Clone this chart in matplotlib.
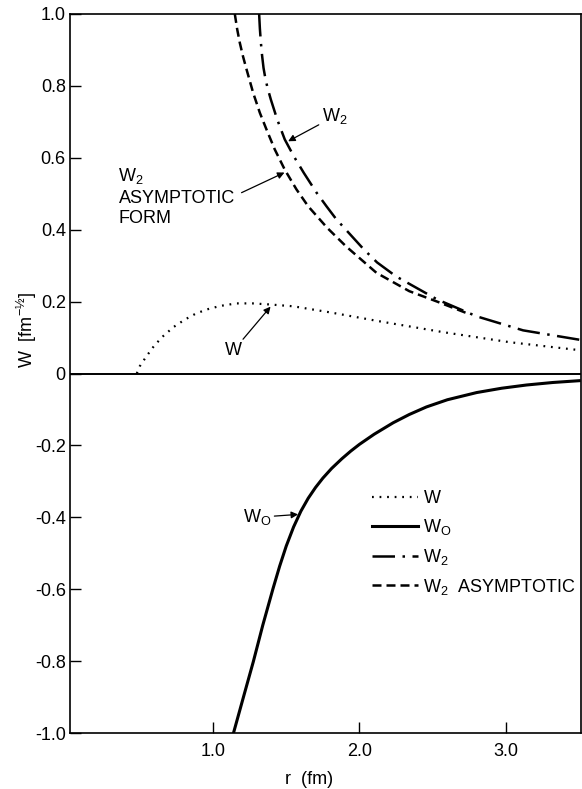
import matplotlib
matplotlib.use("Agg")
import matplotlib.pyplot as plt
from matplotlib.ticker import FixedLocator, FuncFormatter

plt.rcParams["font.family"] = ["Liberation Sans", "DejaVu Sans"]
plt.rcParams["mathtext.fontset"] = "custom"
plt.rcParams["mathtext.rm"] = "Liberation Sans"
plt.rcParams["mathtext.it"] = "Liberation Sans"
plt.rcParams["mathtext.default"] = "regular"

# values
w_r = [0.48, 0.50, 0.546, 0.60, 0.66, 0.73, 0.808, 0.88, 0.956, 1.05, 1.16, 1.27, 1.388,
       1.547, 1.80, 2.139, 2.571, 3.026, 3.50]
w_v = [0.0, 0.020, 0.048, 0.078, 0.104, 0.129, 0.150, 0.166, 0.178, 0.188, 0.195, 0.195,
       0.192, 0.187, 0.170, 0.145, 0.115, 0.087, 0.065]

w0_r = [1.14, 1.21, 1.275, 1.34, 1.41, 1.455, 1.50, 1.55, 1.60, 1.65, 1.70, 1.75, 1.81,
        1.88, 1.94, 2.00, 2.10, 2.23, 2.34, 2.457, 2.60, 2.80, 2.97, 3.14, 3.32, 3.50]
w0_v = [-1.0, -0.897, -0.802, -0.70, -0.598, -0.536, -0.480, -0.427, -0.383, -0.347,
        -0.317, -0.291, -0.264, -0.237, -0.216, -0.197, -0.169, -0.137, -0.114, -0.093,
        -0.073, -0.053, -0.041, -0.032, -0.025, -0.020]

w2_r = [1.315, 1.320, 1.327, 1.335, 1.345, 1.357, 1.372, 1.395, 1.438, 1.490, 1.552, 1.620,
        1.707, 1.775, 1.84, 2.03, 2.12, 2.25, 2.53, 2.80, 3.117, 3.50]
w2_v = [1.0, 0.96, 0.92, 0.885, 0.85, 0.822, 0.795, 0.762, 0.707, 0.651, 0.604, 0.558,
        0.503, 0.465, 0.430, 0.345, 0.309, 0.270, 0.206, 0.159, 0.120, 0.094]

w2a_r = [1.149, 1.165, 1.183, 1.205, 1.229, 1.274, 1.320, 1.365, 1.422, 1.49, 1.57, 1.65,
         1.78, 1.91, 2.116, 2.34, 2.53, 2.75]
w2a_v = [1.0, 0.958, 0.920, 0.882, 0.846, 0.781, 0.725, 0.679, 0.623, 0.567, 0.512, 0.465,
         0.405, 0.353, 0.280, 0.229, 0.200, 0.165]

y_ticks = [-1.0, -0.8, -0.6, -0.4, -0.2, 0.0, 0.2, 0.4, 0.6, 0.8, 1.0]
x_ticks = [1.0, 2.0, 3.0]

fig = plt.figure(figsize=(5.82, 7.89), dpi=100)
ax = fig.add_axes([70 / 582, 1 - 733 / 789, 511 / 582, 719 / 789])

ax.axhline(0, color="k", lw=1.4, zorder=1)
ax.plot(w_r, w_v, color="k", lw=1.6, ls=(0, (0.8, 2.6)), label="W")
ax.plot(w0_r, w0_v, color="k", lw=2.2, ls="-", label="W$_O$")
ax.plot(w2_r, w2_v, color="k", lw=1.8, ls=(0, (9, 3, 1, 3)), label="W$_2$")
ax.plot(w2a_r, w2a_v, color="k", lw=1.8, ls=(0, (3.6, 2)), label="W$_2$  ASYMPTOTIC")

ax.set_xlim(0.024, 3.512)
ax.set_ylim(-1.0, 1.0)
ax.xaxis.set_major_locator(FixedLocator(x_ticks))
ax.yaxis.set_major_locator(FixedLocator(y_ticks))
ax.xaxis.set_major_formatter(FuncFormatter(lambda v, p: f"{v:.1f}"))
ax.yaxis.set_major_formatter(FuncFormatter(lambda v, p: "0" if abs(v) < 1e-9 else f"{v:.1f}"))
ax.tick_params(direction="in", length=8, width=1.0, labelsize=13)
ax.tick_params(axis="x", pad=7)
ax.tick_params(axis="y", pad=3)
for s in ax.spines.values():
    s.set_linewidth(1.2)

arrow = dict(arrowstyle="-|>", color="k", lw=0.9, mutation_scale=10, shrinkA=0, shrinkB=0)
ax.annotate("W$_2$", xy=(1.513, 0.646), xytext=(1.741, 0.715), fontsize=13,
            ha="left", va="center", arrowprops=arrow)
ax.text(0.355, 0.492, "W$_2$\nASYMPTOTIC\nFORM", fontsize=13, ha="left", va="center",
        linespacing=1.25)
ax.annotate("", xy=(1.488, 0.559), xytext=(1.195, 0.503), arrowprops=arrow)
ax.annotate("W", xy=(1.393, 0.186), xytext=(1.14, 0.064), fontsize=13,
            ha="center", va="center", arrowprops=arrow)
ax.annotate("W$_O$", xy=(1.581, -0.392), xytext=(1.206, -0.40), fontsize=13,
            ha="left", va="center", arrowprops=arrow)

ax.legend(loc="upper left", bbox_to_anchor=(0.591, 0.338), frameon=False, fontsize=13,
          handlelength=2.55, handletextpad=0.3, labelspacing=0.55, borderpad=0,
          borderaxespad=0)

fig.text(27 / 582, 1 - 330 / 789, "W  [fm$^{-½}$]", rotation=90, ha="center",
         va="center", fontsize=13)
fig.text(309 / 582, 1 - 780 / 789, "r  (fm)", ha="center", va="center", fontsize=13)

fig.savefig("out.png", dpi=100)
